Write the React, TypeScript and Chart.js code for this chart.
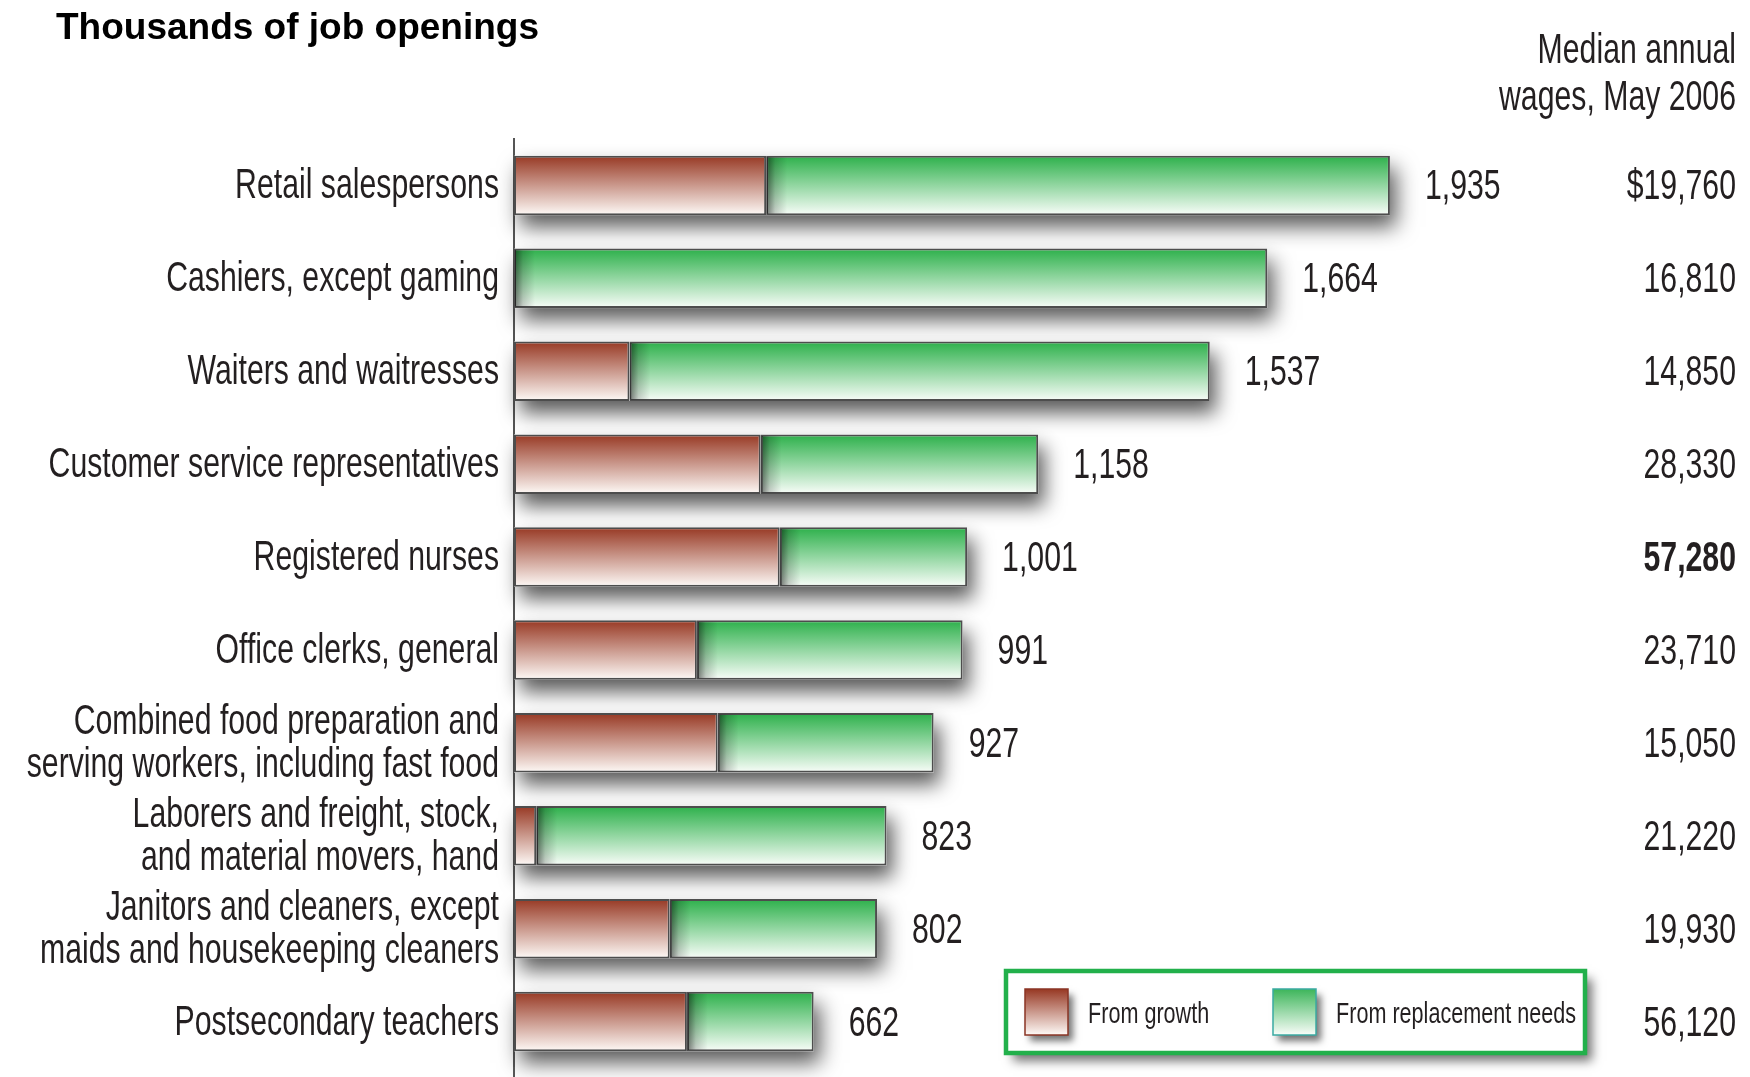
import React, { useEffect, useRef } from 'react';
import { Chart, registerables } from 'chart.js';

Chart.register(...registerables);

// ---------- data ----------
const categories: (string | string[])[] = [
  'Retail salespersons',
  'Cashiers, except gaming',
  'Waiters and waitresses',
  'Customer service representatives',
  'Registered nurses',
  'Office clerks, general',
  ['Combined food preparation and', 'serving workers, including fast food'],
  ['Laborers and freight, stock,', 'and material movers, hand'],
  ['Janitors and cleaners, except', 'maids and housekeeping cleaners'],
  'Postsecondary teachers',
];
const fromGrowth = [557, 0, 255, 545, 587, 404, 450, 49, 344, 382];
const fromReplacement = [1378, 1664, 1282, 613, 414, 587, 477, 774, 458, 280];
const medianWages = [19760, 16810, 14850, 28330, 57280, 23710, 15050, 21220, 19930, 56120];
const highlightedWageIndex = 4;
const seriesLabels = ['From growth', 'From replacement needs'];
const titleText = 'Thousands of job openings';
const wageHeader = ['Median annual', 'wages, May 2006'];
const xMax = 2620;

// ---------- styles ----------
const SANS = "'Liberation Sans', Arial, sans-serif";
const TEXT = '#231f20';
const SX = 0.72; // horizontal condensing of the label face
const LABEL_SIZE = 42;
const BAR_FRACTION = 0.64;
const RED_TOP = '#973823';
const RED_BOTTOM = '#fefaf7';
const GREEN_TOP = '#2cb04a';
const GREEN_BOTTOM = '#f9fdf9';

function drawCondensed(
  ctx: CanvasRenderingContext2D,
  text: string,
  x: number,
  y: number,
  align: CanvasTextAlign,
  size: number,
  bold = false,
) {
  ctx.save();
  ctx.translate(x, y);
  ctx.scale(SX, 1);
  ctx.font = `${bold ? 'bold ' : ''}${size}px ${SANS}`;
  ctx.textAlign = align;
  ctx.textBaseline = 'alphabetic';
  ctx.fillStyle = TEXT;
  ctx.fillText(text, 0, 0);
  ctx.restore();
}

function barGradient(ctx: any, top: string, bottom: string) {
  const chart = ctx.chart;
  const ys = chart.scales && chart.scales.y;
  if (!ys || ctx.dataIndex === undefined) return top;
  const c = ys.getPixelForValue(ctx.dataIndex);
  const h = (ys.height / categories.length) * BAR_FRACTION;
  if (!isFinite(c) || !isFinite(h) || h <= 0) return top;
  const g = chart.ctx.createLinearGradient(0, c - h / 2, 0, c + h / 2);
  g.addColorStop(0, top);
  g.addColorStop(1, bottom);
  return g;
}

const decorPlugin = {
  id: 'decor',
  beforeDatasetsDraw(chart: any) {
    const ctx = chart.ctx;
    const m0 = chart.getDatasetMeta(0);
    const m1 = chart.getDatasetMeta(1);
    for (let i = 0; i < categories.length; i++) {
      const a = m0.data[i];
      const b = m1.data[i];
      if (!a || !b) continue;
      const left = Math.min(a.base, b.base);
      const right = Math.max(a.x, b.x);
      const h = b.height;
      const top = b.y - h / 2;
      ctx.save();
      ctx.shadowColor = 'rgba(0,0,0,0.65)';
      ctx.shadowBlur = 20;
      ctx.shadowOffsetX = 6;
      ctx.shadowOffsetY = 12;
      ctx.fillStyle = '#ffffff';
      ctx.fillRect(left, top, right - left, h);
      ctx.restore();
    }
  },
  afterDatasetsDraw(chart: any) {
    const ctx = chart.ctx;
    const m0 = chart.getDatasetMeta(0);
    const m1 = chart.getDatasetMeta(1);
    for (let i = 0; i < categories.length; i++) {
      const a = m0.data[i];
      const b = m1.data[i];
      if (!a || !b) continue;
      const bx = a.x + 1;
      const h = b.height;
      const top = b.y - h / 2 + 1.5;
      const w = Math.min(20, b.x - bx - 2);
      if (!(w > 0) || !isFinite(bx)) continue;
      const g = ctx.createLinearGradient(bx, 0, bx + w, 0);
      g.addColorStop(0, 'rgba(0,0,0,0.5)');
      g.addColorStop(0.4, 'rgba(0,0,0,0.18)');
      g.addColorStop(1, 'rgba(0,0,0,0)');
      ctx.save();
      ctx.fillStyle = g;
      ctx.fillRect(bx, top, w, h - 3);
      ctx.restore();
    }
  },
  afterDraw(chart: any) {
    const ctx = chart.ctx;
    const area = chart.chartArea;
    const ys = chart.scales.y;
    const xs = chart.scales.x;
    const H = chart.height;
    ctx.save();

    // axis extension to bottom edge
    ctx.strokeStyle = '#555555';
    ctx.lineWidth = 2;
    ctx.beginPath();
    ctx.moveTo(area.left, area.bottom - 1);
    ctx.lineTo(area.left, H);
    ctx.stroke();

    // title
    ctx.fillStyle = '#000';
    ctx.font = `bold 37px ${SANS}`;
    ctx.textAlign = 'left';
    ctx.textBaseline = 'alphabetic';
    ctx.fillText(titleText, 56, 39);

    // category labels, placed by the category scale
    const labelRight = area.left - 15;
    const lineGap = 43;
    for (let i = 0; i < categories.length; i++) {
      const c = ys.getPixelForValue(i);
      const lines = Array.isArray(categories[i]) ? (categories[i] as string[]) : [categories[i] as string];
      const first = c + 13 - ((lines.length - 1) * lineGap) / 2;
      lines.forEach((ln, k) => drawCondensed(ctx, ln, labelRight, first + k * lineGap, 'right', LABEL_SIZE));
    }

    // wage header
    const rightX = 1736;
    drawCondensed(ctx, wageHeader[0], rightX, 63, 'right', LABEL_SIZE);
    drawCondensed(ctx, wageHeader[1], rightX, 110, 'right', LABEL_SIZE);

    // value labels and wages
    for (let i = 0; i < categories.length; i++) {
      const total = fromGrowth[i] + fromReplacement[i];
      const cy = ys.getPixelForValue(i) + 14;
      drawCondensed(ctx, total.toLocaleString('en-US'), xs.getPixelForValue(total) + 35, cy, 'left', LABEL_SIZE);
      const wage = (i === 0 ? '$' : '') + medianWages[i].toLocaleString('en-US');
      drawCondensed(ctx, wage, rightX, cy, 'right', LABEL_SIZE, i === highlightedWageIndex);
    }

    // legend box
    const lx = 1006, ly = 971, lw = 579, lh = 82;
    ctx.save();
    ctx.shadowColor = 'rgba(0,0,0,0.55)';
    ctx.shadowBlur = 10;
    ctx.shadowOffsetX = 7;
    ctx.shadowOffsetY = 8;
    ctx.fillStyle = '#ffffff';
    ctx.fillRect(lx, ly, lw, lh);
    ctx.restore();
    ctx.strokeStyle = '#22b04b';
    ctx.lineWidth = 4.5;
    ctx.strokeRect(lx, ly, lw, lh);

    const swatches = [
      { x: 1025, top: RED_TOP, bottom: RED_BOTTOM, border: '#8a3424', tx: 1088 },
      { x: 1273, top: '#3db55a', bottom: GREEN_BOTTOM, border: '#3aaaa2', tx: 1336 },
    ];
    const sy = 989, sw = 43, sh = 46;
    swatches.forEach((s, k) => {
      const g = ctx.createLinearGradient(0, sy, 0, sy + sh);
      g.addColorStop(0, s.top);
      g.addColorStop(1, s.bottom);
      ctx.save();
      ctx.shadowColor = 'rgba(0,0,0,0.55)';
      ctx.shadowBlur = 7;
      ctx.shadowOffsetX = 5;
      ctx.shadowOffsetY = 6;
      ctx.fillStyle = g;
      ctx.fillRect(s.x, sy, sw, sh);
      ctx.restore();
      ctx.strokeStyle = s.border;
      ctx.lineWidth = 1.5;
      ctx.strokeRect(s.x, sy, sw, sh);
      drawCondensed(ctx, chart.data.datasets[k].label, s.tx, 1023, 'left', 30);
    });

    ctx.restore();
  },
};

export default function App() {
  const canvasRef = useRef<HTMLCanvasElement | null>(null);

  useEffect(() => {
    const canvas = canvasRef.current;
    if (!canvas) return;
    const chart = new Chart(canvas, {
      type: 'bar',
      data: {
        labels: categories as any,
        datasets: [
          {
            label: seriesLabels[0],
            data: fromGrowth,
            backgroundColor: (c: any) => barGradient(c, RED_TOP, RED_BOTTOM),
            borderColor: '#4d4d4d',
            borderWidth: 2,
            borderSkipped: false,
            barPercentage: BAR_FRACTION,
            categoryPercentage: 1,
          },
          {
            label: seriesLabels[1],
            data: fromReplacement,
            backgroundColor: (c: any) => barGradient(c, GREEN_TOP, GREEN_BOTTOM),
            borderColor: '#4d4d4d',
            borderWidth: 2,
            borderSkipped: false,
            barPercentage: BAR_FRACTION,
            categoryPercentage: 1,
          },
        ],
      },
      options: {
        indexAxis: 'y',
        animation: false,
        responsive: true,
        maintainAspectRatio: false,
        layout: { padding: { top: 139, left: 0, right: 50, bottom: 9 } },
        plugins: {
          legend: { display: false },
          tooltip: { enabled: false },
          title: { display: false },
        },
        scales: {
          x: {
            stacked: true,
            min: 0,
            max: xMax,
            display: false,
          },
          y: {
            stacked: true,
            grid: { display: false, drawTicks: false },
            border: { display: true, color: '#555555', width: 2 },
            ticks: { display: false },
            afterFit: (scale: any) => {
              scale.width = 514;
            },
          },
        },
      },
      plugins: [decorPlugin],
    });
    return () => chart.destroy();
  }, []);

  return (
    <div style={{ position: 'fixed', left: 0, top: 0, width: 1750, height: 1077, background: '#ffffff' }}>
      <canvas ref={canvasRef} />
    </div>
  );
}
